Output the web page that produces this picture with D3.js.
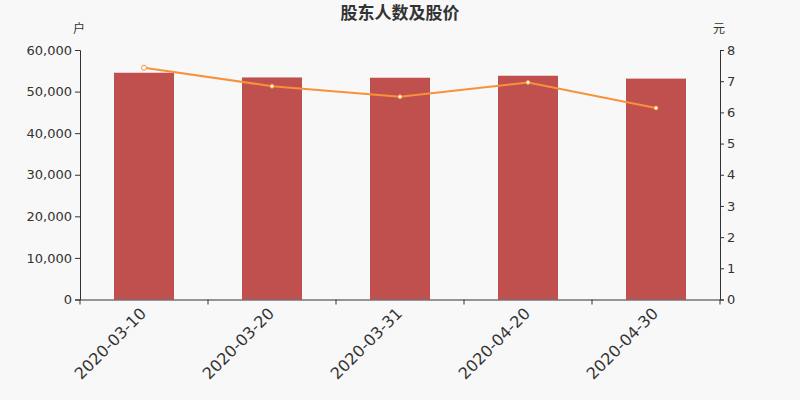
<!DOCTYPE html>
<html>
	<head>
		<meta charset="utf-8">
		<title>股东人数及股价</title>
		<style>
			body{margin:0;background:#f8f8f8;}
			svg text{font-family:"DejaVu Sans","Noto Sans CJK SC",sans-serif;}
		</style>
	</head>
	<body>
		<script src="https://cdn.jsdelivr.net/npm/d3@7/dist/d3.min.js" charset="utf-8"></script>
		<script>
			// 数据
			var dates = ["2020-03-10","2020-03-20","2020-03-31","2020-04-20","2020-04-30"];
			var holders = [54530,53400,53330,53810,53120];
			var prices = [7.43,6.84,6.50,6.96,6.14];
			var leftTicks = [0,10000,20000,30000,40000,50000,60000];
			var rightTicks = [0,1,2,3,4,5,6,7,8];

			var svgStyle = {width:800,height:400,left:80,right:80,top:50,bottom:100.5}

			var svg = d3.select("body")
						.append("svg")
						.attr("width",svgStyle.width)
						.attr("height",svgStyle.height)
						.style("background","#f8f8f8")

			var xScale = d3.scaleBand()
							.domain(dates)
							.range([svgStyle.left,svgStyle.width-svgStyle.right])
			var yScale = d3.scaleLinear()
							.domain([0,60000])
							.range([svgStyle.height-svgStyle.bottom,svgStyle.top])
			var y2Scale = d3.scaleLinear()
							.domain([0,8])
							.range([svgStyle.height-svgStyle.bottom,svgStyle.top])

			//标题
			svg.append("text")
				.attr("x",400).attr("y",19)
				.attr("text-anchor","middle")
				.attr("font-size",17).attr("font-weight","bold")
				.attr("fill","#333")
				.text("股东人数及股价")
			svg.append("text")
				.attr("x",79).attr("y",33)
				.attr("text-anchor","middle")
				.attr("font-size",12).attr("fill","#333")
				.text("户")
			svg.append("text")
				.attr("x",719).attr("y",33)
				.attr("text-anchor","middle")
				.attr("font-size",12).attr("fill","#333")
				.text("元")

			//柱子
			var barW = 60;
			svg.selectAll("rect.bar").data(holders).enter()
				.append("rect")
				.attr("class","bar")
				.attr("x",function(d,i){ return xScale(dates[i])+xScale.bandwidth()/2-barW/2; })
				.attr("y",function(d){ return yScale(d); })
				.attr("width",barW)
				.attr("height",function(d){ return yScale(0)-yScale(d); })
				.attr("fill","#c0504e")

			//坐标轴
			var fmt = d3.format(",");
			var gL = svg.append("g")
				.attr("transform","translate("+svgStyle.left+",0)")
				.call(d3.axisLeft(yScale).tickValues(leftTicks).tickFormat(fmt).tickSizeOuter(0).tickSize(5))
			var gR = svg.append("g")
				.attr("transform","translate("+(svgStyle.width-svgStyle.right)+",0)")
				.call(d3.axisRight(y2Scale).tickValues(rightTicks).tickSizeOuter(0).tickSize(4))
			var gX = svg.append("g")
				.attr("transform","translate(0,"+(svgStyle.height-svgStyle.bottom)+")")
				.call(d3.axisBottom(xScale).tickSize(0).tickSizeOuter(0))

			// 类目分隔刻度
			var bounds = dates.map(function(d){ return xScale(d); }).concat([xScale.range()[1]]);
			gX.selectAll("line.sep").data(bounds).enter()
				.append("line")
				.attr("class","sep")
				.attr("x1",function(d){ return d; }).attr("x2",function(d){ return d; })
				.attr("y1",0).attr("y2",5)
				.attr("stroke","#333")

			gX.selectAll(".tick text")
				.attr("font-size",16)
				.attr("fill","#333")
				.attr("text-anchor","end")
				.attr("dy","0.35em")
				.attr("transform","translate(-3,9) rotate(-45)")

			;[gL,gR,gX].forEach(function(g){
				g.select(".domain").attr("stroke","#333")
				g.selectAll(".tick line").attr("stroke","#333")
			})
			gL.selectAll(".tick text").attr("font-size",13).attr("fill","#333").attr("x",-8)
			gR.selectAll(".tick text").attr("font-size",13).attr("fill","#333").attr("x",7)

			//折线
			var line = d3.line()
						.x(function(d,i){ return xScale(dates[i])+xScale.bandwidth()/2; })
						.y(function(d){ return y2Scale(d); })
			svg.append("path")
				.datum(prices)
				.attr("d",line)
				.attr("fill","none")
				.attr("stroke","#f7923a")
				.attr("stroke-width",2)

			svg.selectAll("circle.pt").data(prices).enter()
				.append("circle")
				.attr("class","pt")
				.attr("cx",function(d,i){ return xScale(dates[i])+xScale.bandwidth()/2; })
				.attr("cy",function(d){ return y2Scale(d); })
				.attr("r",function(d,i){ return i==0?2.5:2; })
				.attr("fill","#fff")
				.attr("stroke","#f7923a")
				.attr("stroke-width",1)
		</script>
	</body>
</html>
